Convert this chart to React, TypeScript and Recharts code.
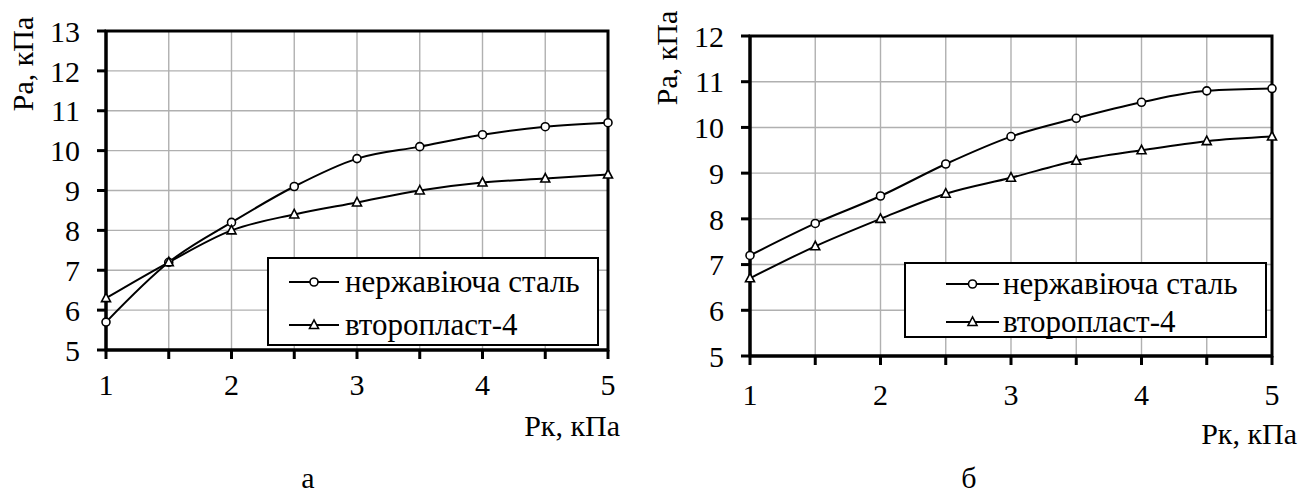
import React from "react"
import { LineChart, Line, XAxis, YAxis, CartesianGrid, ReferenceArea, Label } from "recharts"

const pk = [1, 1.5, 2, 2.5, 3, 3.5, 4, 4.5, 5]
const xTicks = [1, 1.5, 2, 2.5, 3, 3.5, 4, 4.5, 5]
const steelA = [5.7, 7.2, 8.2, 9.1, 9.8, 10.1, 10.4, 10.6, 10.7]
const teflonA = [6.3, 7.2, 8.0, 8.4, 8.7, 9.0, 9.2, 9.3, 9.4]
const steelB = [7.2, 7.9, 8.5, 9.2, 9.8, 10.2, 10.55, 10.8, 10.85]
const teflonB = [6.7, 7.4, 8.0, 8.55, 8.9, 9.27, 9.5, 9.7, 9.8]
const yTicksA = [5, 6, 7, 8, 9, 10, 11, 12, 13]
const yTicksB = [5, 6, 7, 8, 9, 10, 11, 12]
const seriesNames = ["нержавіюча сталь", "второпласт-4"]
const xTitle = "Рк, кПа"
const yTitle = "Ра, кПа"

const FONT = "'Liberation Serif', 'DejaVu Serif', serif"
const FS = 30
const LEGEND_FS = 31

function Circle(props: any) {
  const { cx, cy, key } = props
  if (cx == null || cy == null) return null
  return <circle key={key} cx={cx} cy={cy} r={4} fill="#fff" stroke="#000" strokeWidth={1.6} />
}

function Triangle(props: any) {
  const { cx, cy, key } = props
  if (cx == null || cy == null) return null
  return (
    <path
      key={key}
      d={`M${cx},${cy - 5} L${cx - 4.5},${cy + 3.5} L${cx + 4.5},${cy + 3.5} Z`}
      fill="#fff"
      stroke="#000"
      strokeWidth={1.6}
    />
  )
}

function LegendBox({ style, rowTops, lineX, textX }: any) {
  return (
    <div
      style={{
        position: "absolute",
        background: "#fff",
        border: "2px solid #000",
        boxSizing: "border-box",
        fontFamily: FONT,
        fontSize: LEGEND_FS,
        ...style,
      }}
    >
      {seriesNames.map((name, i) => (
        <div key={name} style={{ position: "absolute", left: 0, top: rowTops[i] - 20, height: 40, width: "100%" }}>
          <svg width={textX} height={40} style={{ position: "absolute", left: 0, top: 0 }}>
            <line x1={lineX[0]} x2={lineX[1]} y1={20} y2={20} stroke="#000" strokeWidth={2} />
            {i === 0 ? <Circle cx={(lineX[0] + lineX[1]) / 2} cy={20} /> : <Triangle cx={(lineX[0] + lineX[1]) / 2} cy={20} />}
          </svg>
          <span style={{ position: "absolute", left: textX, top: 0, lineHeight: "40px", whiteSpace: "nowrap" }}>{name}</span>
        </div>
      ))}
    </div>
  )
}

interface PanelProps {
  steel: number[]
  teflon: number[]
  yTicks: number[]
  width: number
  height: number
  yAxisWidth: number
  top: number
  right: number
  tickMarginX: number
  xTitleDy: number
  xTitleDx: number
  yTitleX: number
  yTitleY: number
}

function Panel(p: PanelProps) {
  const data = pk.map((x, i) => ({ x, steel: p.steel[i], teflon: p.teflon[i] }))
  const yMin = p.yTicks[0]
  const yMax = p.yTicks[p.yTicks.length - 1]
  return (
    <LineChart width={p.width} height={p.height} data={data} margin={{ top: p.top, right: p.right, left: 0, bottom: 50 }}>
      <CartesianGrid stroke="#b0b0b0" strokeWidth={1.4} />
      <XAxis
        dataKey="x"
        type="number"
        domain={[1, 5]}
        ticks={xTicks}
        interval={0}
        tickFormatter={(v: number) => (Number.isInteger(v) ? String(v) : "")}
        height={50}
        tickSize={9}
        tickMargin={p.tickMarginX}
        axisLine={{ stroke: "#000", strokeWidth: 3 }}
        tickLine={{ stroke: "#000", strokeWidth: 3 }}
        tick={{ fill: "#000", fontSize: FS, fontFamily: FONT }}
      >
        <Label
          content={(props: any) => {
            const vb = props.viewBox
            return (
              <text
                x={vb.x + vb.width + p.xTitleDx}
                y={vb.y + p.xTitleDy}
                textAnchor="end"
                dominantBaseline="central"
                fontSize={FS}
                fontFamily={FONT}
                fill="#000"
              >
                {xTitle}
              </text>
            )
          }}
        />
      </XAxis>
      <YAxis
        type="number"
        domain={[yMin, yMax]}
        ticks={p.yTicks}
        interval={0}
        width={p.yAxisWidth}
        tickSize={9}
        tickMargin={17}
        axisLine={{ stroke: "#000", strokeWidth: 3 }}
        tickLine={{ stroke: "#000", strokeWidth: 3 }}
        tick={{ fill: "#000", fontSize: FS, fontFamily: FONT }}
      >
        <Label
          content={() => (
            <text
              x={p.yTitleX}
              y={p.yTitleY}
              textAnchor="middle"
              dominantBaseline="central"
              transform={`rotate(-90, ${p.yTitleX}, ${p.yTitleY})`}
              fontSize={FS}
              fontFamily={FONT}
              fill="#000"
            >
              {yTitle}
            </text>
          )}
        />
      </YAxis>
      <ReferenceArea x1={1} x2={5} y1={yMin} y2={yMax} fill="none" stroke="#000" strokeWidth={3} ifOverflow="visible" />
      <Line type="monotone" dataKey="steel" stroke="#000" strokeWidth={2} dot={Circle} isAnimationActive={false} />
      <Line type="monotone" dataKey="teflon" stroke="#000" strokeWidth={2} dot={Triangle} isAnimationActive={false} />
    </LineChart>
  )
}

export default function App() {
  return (
    <div style={{ position: "absolute", left: 0, top: 0, width: 1314, height: 497, background: "#fff", fontFamily: FONT }}>
      <div style={{ position: "absolute", left: 0, top: 0 }}>
        <Panel
          steel={steelA}
          teflon={teflonA}
          yTicks={yTicksA}
          width={640}
          height={450}
          yAxisWidth={106}
          top={31}
          right={32}
          tickMarginX={15}
          xTitleDy={75}
          xTitleDx={12}
          yTitleX={22}
          yTitleY={64}
        />
      </div>
      <LegendBox style={{ left: 267, top: 257, width: 332, height: 89 }} rowTops={[23, 66]} lineX={[20, 70]} textX={76} />
      <div style={{ position: "absolute", left: 640, top: 0 }}>
        <Panel
          steel={steelB}
          teflon={teflonB}
          yTicks={yTicksB}
          width={674}
          height={456}
          yAxisWidth={110}
          top={36}
          right={42}
          tickMarginX={19}
          xTitleDy={77}
          xTitleDx={25}
          yTitleX={26}
          yTitleY={58}
        />
      </div>
      <LegendBox style={{ left: 904, top: 262, width: 363, height: 76 }} rowTops={[20, 58]} lineX={[40, 93]} textX={97} />
      <div style={{ position: "absolute", left: 308, top: 478, transform: "translate(-50%, -50%)", fontSize: 30, lineHeight: "34px" }}>а</div>
      <div style={{ position: "absolute", left: 969, top: 478, transform: "translate(-50%, -50%)", fontSize: 30, lineHeight: "34px" }}>б</div>
    </div>
  )
}
